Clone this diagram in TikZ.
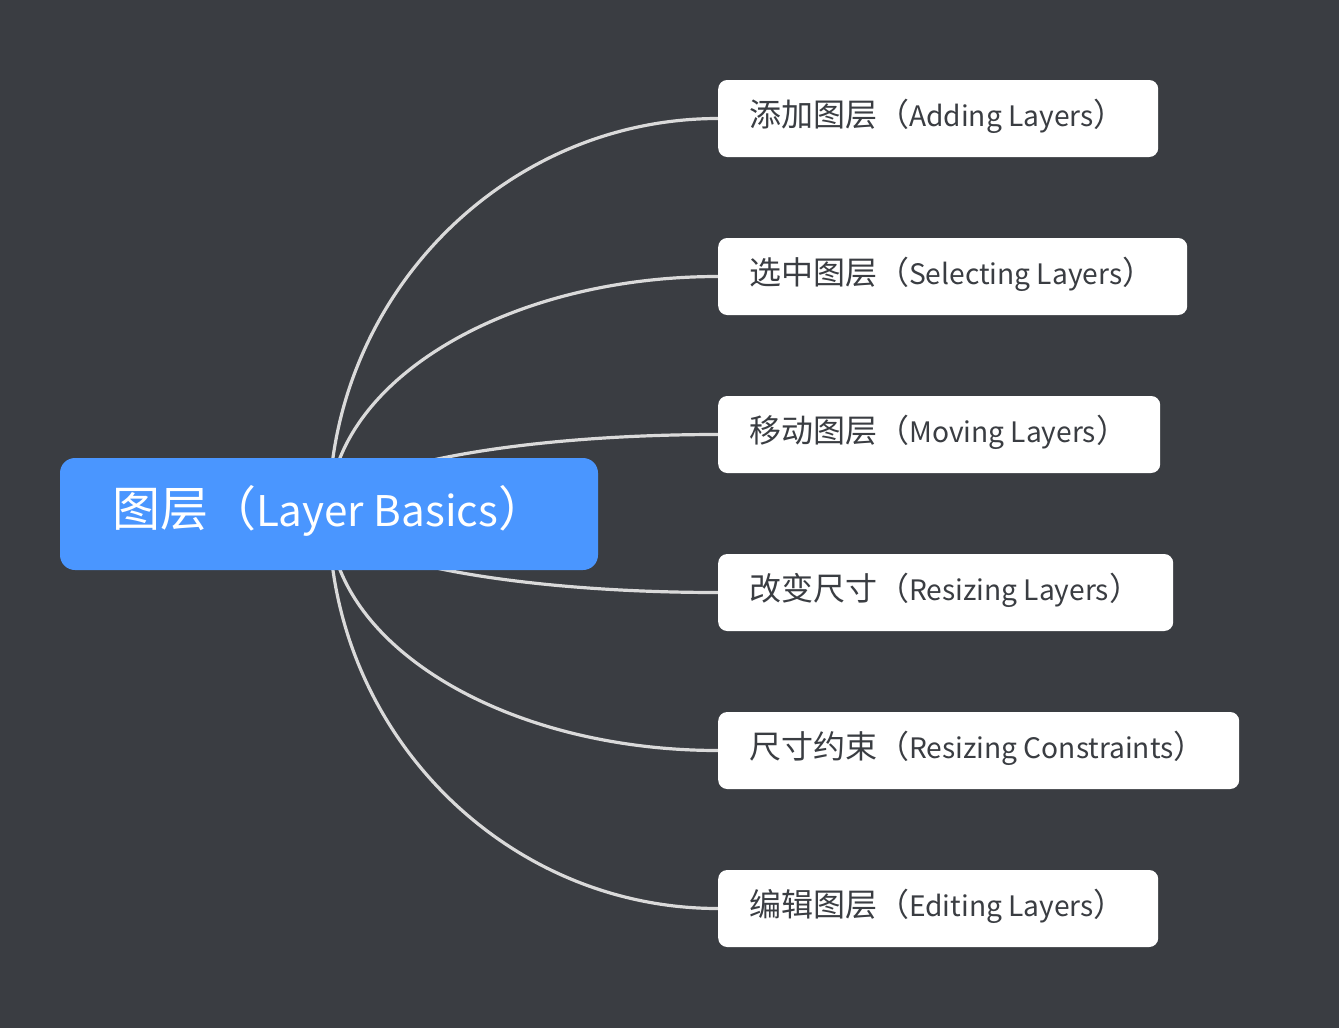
\documentclass[tikz,border=0pt]{standalone}
\usepackage{fontspec}
\setmainfont{Noto Sans CJK SC}
\newfontfamily\latfont[Scale=0.88]{Noto Sans CJK SC}
\usetikzlibrary{calc,backgrounds}
\definecolor{bgcol}{HTML}{3A3D42}
\definecolor{rootcol}{HTML}{4A96FF}
\definecolor{linecol}{HTML}{DADADA}
\definecolor{txtcol}{HTML}{3A3D42}
\newcommand{\lbox}[2]{\makebox[#1][l]{#2}}
\newcommand{\lat}[1]{{\latfont #1}}
\tikzset{
  rootbox/.style={fill=rootcol, rounded corners=15pt, minimum height=112pt, inner xsep=52pt, inner ysep=0pt,
    text height=40pt, text depth=16pt, text=white, font=\fontsize{48}{56}\selectfont},
  leafbox/.style={fill=white, rounded corners=9pt, anchor=west, minimum height=77pt, inner xsep=31pt, inner ysep=0pt,
    text height=24pt, text depth=9pt, text=txtcol, font=\fontsize{32}{38}\selectfont},
  conn/.style={draw=linecol, line width=3.2pt}
}
\begin{document}
\begin{tikzpicture}[x=1pt,y=-1pt]
\begin{scope}[on background layer]
  \fill[bgcol] (0,0) rectangle (1339,1028);
\end{scope}
\useasboundingbox (0,0) rectangle (1339,1028);
\node[rootbox] (root) at (329,514) {\lbox{434pt}{图层（\lat{Layer Basics}）}};
\node[leafbox] (c1) at (718,118.5) {\lbox{378pt}{添加图层（\lat{Adding Layers}）}};
\node[leafbox] (c2) at (718,276.5) {\lbox{407pt}{选中图层（\lat{Selecting Layers}）}};
\node[leafbox] (c3) at (718,434.5) {\lbox{380pt}{移动图层（\lat{Moving Layers}）}};
\node[leafbox] (c4) at (718,592.5) {\lbox{393pt}{改变尺寸（\lat{Resizing Layers}）}};
\node[leafbox] (c5) at (718,750.5) {\lbox{459pt}{尺寸约束（\lat{Resizing Constraints}）}};
\node[leafbox] (c6) at (718,908.5) {\lbox{378pt}{编辑图层（\lat{Editing Layers}）}};
\begin{scope}[on background layer]
  \foreach \c in {c1,c2,c3,c4,c5,c6} {
    \draw[conn] (root.center) .. controls ($(root.center)!0.55!(root.center |- \c.west)$)
      and ($(\c.west)!0.55!(root.center |- \c.west)$) .. (\c.west);
  }
\end{scope}
\end{tikzpicture}
\end{document}
